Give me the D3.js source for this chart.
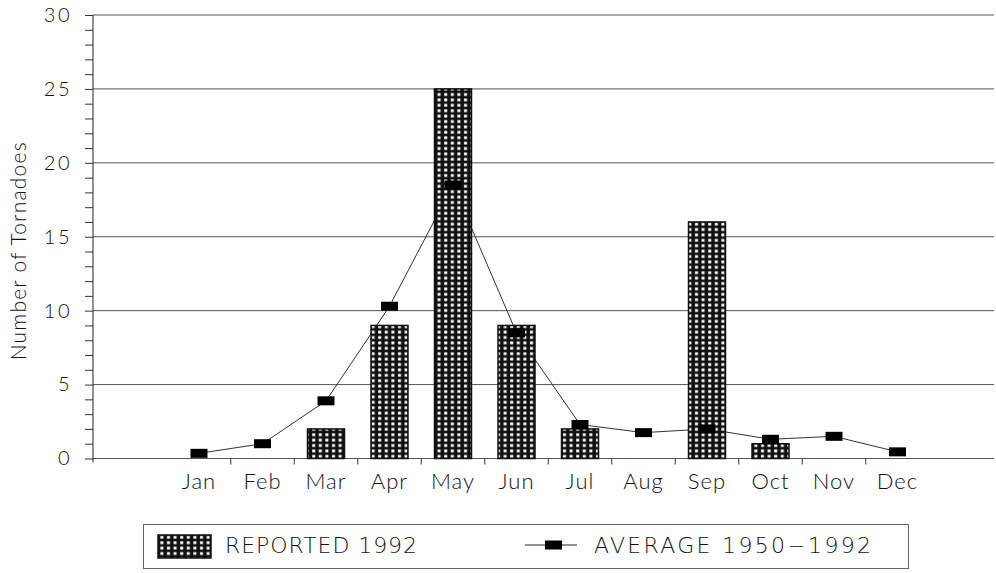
<!DOCTYPE html>
<html>
<head>
<meta charset="utf-8">
<script src="https://cdn.jsdelivr.net/npm/d3@7"></script>
<style>
  body { margin: 0; background: #fff; }
  svg text { fill: #111; }
</style>
</head>
<body>
<svg id="chart" width="996" height="573"></svg>
<script>
// data
const months = ["Jan", "Feb", "Mar", "Apr", "May", "Jun", "Jul", "Aug", "Sep", "Oct", "Nov", "Dec"];
const reported1992 = [0, 0, 2, 9, 25, 9, 2, 0, 16, 1, 0, 0];
const average5092 = [0.35, 1.0, 3.9, 10.3, 18.5, 8.5, 2.3, 1.75, 2.0, 1.3, 1.5, 0.45];
const yTicks = [0, 5, 10, 15, 20, 25, 30];
const legendLabels = ["REPORTED 1992", "AVERAGE 1950\u22121992"];

const svg = d3.select("#chart");
const axisFont = "Lato, 'Open Sans', sans-serif";

// plot area
const plotLeft = 93, plotRight = 994, plotTop = 15, plotBottom = 458.5;

const x = d3.scaleBand()
    .domain(months)
    .range([167.25, 929.25])
    .padding(0);

const y = d3.scaleLinear()
    .domain([0, 30])
    .range([plotBottom, plotTop]);

// dotted fill for the bars
const defs = svg.append("defs");
const pat = defs.append("pattern")
    .attr("id", "dots")
    .attr("patternUnits", "userSpaceOnUse")
    .attr("width", 6.6)
    .attr("height", 5.4);
pat.append("rect").attr("width", 6.6).attr("height", 5.4).attr("fill", "#111");
pat.append("rect").attr("x", 2).attr("y", 1.3).attr("width", 3).attr("height", 2.8).attr("fill", "#fff");

// gridlines
svg.append("g")
    .selectAll("line")
    .data(yTicks)
    .enter().append("line")
    .attr("x1", plotLeft)
    .attr("x2", plotRight)
    .attr("y1", d => y(d))
    .attr("y2", d => y(d))
    .attr("stroke", "#555")
    .attr("stroke-width", 1);

// y axis with minor ticks every unit
const yAxis = svg.append("g")
    .attr("transform", `translate(${plotLeft},0)`)
    .call(d3.axisLeft(y).tickValues(d3.range(0, 31)).tickSize(8).tickFormat(d => yTicks.includes(d) ? d : ""));
yAxis.select(".domain").attr("stroke", "#222").attr("d", `M0,${plotTop}V${plotBottom + 4}`);
yAxis.selectAll(".tick line").attr("stroke", "#333");
yAxis.selectAll(".tick text")
    .attr("x", -21)
    .attr("font-family", axisFont)
    .attr("font-weight", 300)
    .attr("font-size", 20)
    .attr("letter-spacing", 2.5)
    .attr("fill", "#111");

// x axis: ticks only between months
const bounds = months.slice(1).map(m => x(m));
svg.append("g")
    .selectAll("line")
    .data(bounds)
    .enter().append("line")
    .attr("x1", d => d).attr("x2", d => d)
    .attr("y1", plotBottom).attr("y2", plotBottom + 6)
    .attr("stroke", "#333");

svg.append("g")
    .selectAll("text")
    .data(months)
    .enter().append("text")
    .attr("x", d => x(d) + x.bandwidth() / 2)
    .attr("y", 489)
    .attr("text-anchor", "middle")
    .attr("font-family", axisFont)
    .attr("font-weight", 300)
    .attr("font-size", 22)
    .attr("letter-spacing", 1)
    .text(d => d);

// y label
svg.append("text")
    .attr("transform", `translate(26,${(plotTop + plotBottom) / 2 + 14}) rotate(-90)`)
    .attr("text-anchor", "middle")
    .attr("font-family", axisFont)
    .attr("font-weight", 300)
    .attr("font-size", 21)
    .attr("letter-spacing", 1.2)
    .text("Number of Tornadoes");

// average line sits under the bars, markers over them
const pts = months.map((m, i) => [x(m) + x.bandwidth() / 2, y(average5092[i])]);
svg.append("path")
    .attr("d", d3.line()(pts))
    .attr("fill", "none")
    .attr("stroke", "#333")
    .attr("stroke-width", 1);

// bars
const barW = 37;
svg.append("g")
    .selectAll("rect")
    .data(months.map((m, i) => ({ m, v: reported1992[i] })).filter(d => d.v > 0))
    .enter().append("rect")
    .attr("x", d => x(d.m) + x.bandwidth() / 2 - barW / 2)
    .attr("y", d => y(d.v))
    .attr("width", barW)
    .attr("height", d => y(0) - y(d.v))
    .attr("fill", "url(#dots)")
    .attr("stroke", "#111")
    .attr("stroke-width", 1.5);

svg.append("g")
    .selectAll("rect")
    .data(pts)
    .enter().append("rect")
    .attr("x", d => d[0] - 8.5)
    .attr("y", d => d[1] - 4.5)
    .attr("width", 17)
    .attr("height", 9)
    .attr("fill", "#000");

// legend
const lg = svg.append("g");
lg.append("rect")
    .attr("x", 143.5).attr("y", 524.5)
    .attr("width", 765).attr("height", 44)
    .attr("fill", "none").attr("stroke", "#666").attr("stroke-width", 1);
lg.append("rect")
    .attr("x", 158).attr("y", 535)
    .attr("width", 53).attr("height", 23)
    .attr("fill", "url(#dots)").attr("stroke", "#111").attr("stroke-width", 1.5);
lg.append("line")
    .attr("x1", 525).attr("x2", 577).attr("y1", 545).attr("y2", 545)
    .attr("stroke", "#222");
lg.append("rect")
    .attr("x", 545).attr("y", 540.5).attr("width", 17).attr("height", 9).attr("fill", "#000");
const legendFont = "'DejaVu Sans', sans-serif";
lg.append("text")
    .attr("x", 225).attr("y", 553)
    .attr("font-family", legendFont)
    .attr("font-weight", 200)
    .attr("font-size", 22)
    .attr("textLength", 192)
    .attr("lengthAdjust", "spacing")
    .text(legendLabels[0]);
lg.append("text")
    .attr("x", 594).attr("y", 553)
    .attr("font-family", legendFont)
    .attr("font-weight", 200)
    .attr("font-size", 22)
    .attr("textLength", 277)
    .attr("lengthAdjust", "spacing")
    .text(legendLabels[1]);
</script>
</body>
</html>
